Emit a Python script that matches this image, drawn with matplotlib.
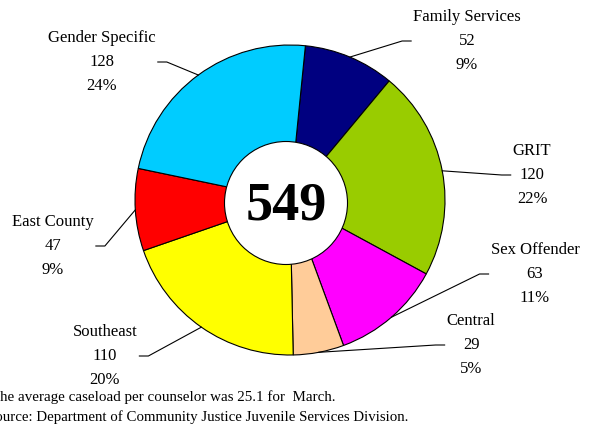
import matplotlib.pyplot as plt
from matplotlib.patches import Circle
import numpy as np

plt.rcParams['font.family'] = ['Liberation Serif', 'DejaVu Serif']

# chart data, clockwise from the top
programs = ['Family Services', 'GRIT', 'Sex Offender', 'Central',
            'Southeast', 'East County', 'Gender Specific']
caseloads = [52, 120, 63, 29, 110, 47, 128]
pct_labels = ['9%', '22%', '11%', '5%', '20%', '9%', '24%']
colors = ['#000080', '#99CC00', '#FF00FF', '#FFCC99',
          '#FFFF00', '#FF0000', '#00CCFF']
total_label = '549'
notes = ['The average caseload per counselor was 25.1 for  March.',
         'Source: Department of Community Justice Juvenile Services Division.']

W, H = 594, 425
# label centres in pixels from the top-left corner (middle text line)
label_pos = [(467, 41), (532, 175), (535, 274), (471, 345),
             (105, 356), (53, 246), (102, 62)]

fig = plt.figure(figsize=(W / 100, H / 100), dpi=100)
ax = fig.add_axes([0, 0, 1, 1])

cx, cy, r = 290, H - 200, 155
wedges, _ = ax.pie(caseloads, colors=colors, center=(cx, cy), radius=r,
                   startangle=84.3, counterclock=False, frame=True,
                   wedgeprops=dict(edgecolor='black', linewidth=0.8))
ax.set_xlim(0, W)
ax.set_ylim(0, H)
ax.set_aspect('equal')
ax.axis('off')

# white centre with the total
ax.add_patch(Circle((286, H - 203), 61.5, facecolor='white',
                    edgecolor='black', linewidth=0.8, zorder=5))
ax.text(286, H - 206, total_label, ha='center', va='center',
        fontsize=39, fontweight='bold', zorder=6)

texts = []
for name, n, pct, (px, py) in zip(programs, caseloads, pct_labels, label_pos):
    t = ax.text(px, H - py, f'{name}\n{n}\n{pct}', ha='center', va='center',
                fontsize=12, linespacing=1.66)
    texts.append(t)

# leader lines from the middle of each slice to its label
fig.canvas.draw()
renderer = fig.canvas.get_renderer()
for w, t, (px, py) in zip(wedges, texts, label_pos):
    mid = np.deg2rad((w.theta1 + w.theta2) / 2)
    ex, ey = cx + r * np.cos(mid), cy + r * np.sin(mid)
    bb = t.get_window_extent(renderer)
    if px > cx:
        end_x = bb.x0 - 2
        knee_x = end_x - 9
    else:
        end_x = bb.x1 + 2
        knee_x = end_x + 9
    ax.plot([ex, knee_x, end_x], [ey, H - py, H - py],
            color='black', linewidth=0.8, zorder=4)

ax.text(-9, H - 397, notes[0], ha='left', va='center', fontsize=10.8)
ax.text(-13, H - 417, notes[1], ha='left', va='center', fontsize=10.7)

fig.savefig('out.png', dpi=100)
